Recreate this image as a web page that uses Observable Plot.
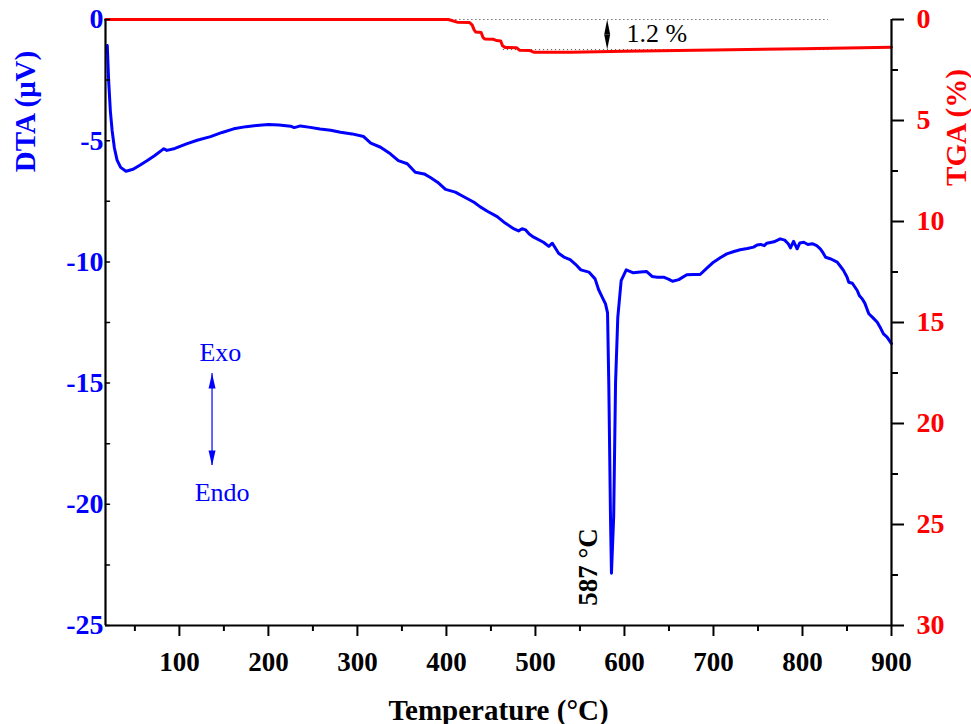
<!DOCTYPE html>
<html>
<head>
<meta charset="utf-8">
<script src="https://cdn.jsdelivr.net/npm/d3@7"></script>
<script src="https://cdn.jsdelivr.net/npm/@observablehq/plot@0.6"></script>
<style>
  html, body { margin: 0; padding: 0; background: #fff; }
</style>
</head>
<body>
<div id="chart"></div>
<script>
// ---- DTA curve (temperature °C, signal µV) ----
const dtaT = [19, 20.5, 22.5, 24.5, 27, 30, 34, 40, 48, 56, 64, 72, 80, 82.5, 86, 95, 108, 120, 135, 148, 161, 175, 190, 200, 212, 225, 229, 236, 247, 258, 270, 281, 294, 307, 315, 326, 337, 346, 356, 365, 375, 382, 390, 399, 410, 419, 431, 438, 446, 457, 466, 476, 481, 485, 489, 493, 498, 509, 515, 519, 526, 532, 539, 545, 551, 560, 567, 571, 575, 578.7, 581, 582.4, 584.3, 585.4, 587.9, 590, 592.5, 596.3, 602, 610, 618, 625, 631, 637, 644, 650, 654, 661, 670, 678, 685, 692, 700, 708, 715, 723, 730, 738, 745, 749, 753, 757, 760, 768, 775, 780, 784, 786.5, 790, 794, 797, 801.5, 806, 811, 816, 820, 823, 826, 832, 839, 843, 846, 850, 852, 856, 861.5, 864, 867, 870, 874.5, 879, 884, 888, 891, 895, 900];
const dtaV = [-1.07, -2.5, -3.8, -4.6, -5.3, -5.8, -6.1, -6.26, -6.18, -6.0, -5.82, -5.62, -5.40, -5.33, -5.40, -5.32, -5.13, -4.98, -4.83, -4.66, -4.51, -4.42, -4.36, -4.33, -4.35, -4.40, -4.46, -4.39, -4.45, -4.52, -4.57, -4.65, -4.72, -4.83, -5.10, -5.27, -5.54, -5.82, -5.95, -6.30, -6.37, -6.52, -6.71, -7.01, -7.12, -7.30, -7.54, -7.73, -7.91, -8.13, -8.40, -8.64, -8.72, -8.63, -8.68, -8.85, -8.98, -9.19, -9.36, -9.23, -9.64, -9.80, -9.91, -10.10, -10.33, -10.42, -10.70, -11.15, -11.45, -11.73, -12.1, -15.0, -20.5, -22.84, -20.5, -15.0, -12.3, -10.77, -10.33, -10.45, -10.42, -10.40, -10.60, -10.63, -10.63, -10.72, -10.80, -10.73, -10.53, -10.52, -10.52, -10.28, -10.01, -9.82, -9.67, -9.57, -9.50, -9.45, -9.39, -9.30, -9.28, -9.33, -9.23, -9.17, -9.05, -9.10, -9.25, -9.42, -9.15, -9.46, -9.22, -9.19, -9.28, -9.25, -9.33, -9.46, -9.62, -9.81, -9.88, -10.01, -10.20, -10.35, -10.62, -10.84, -10.88, -11.18, -11.40, -11.52, -11.70, -12.14, -12.30, -12.49, -12.75, -12.97, -13.10, -13.37];

// ---- TGA curve (temperature °C, mass loss %) ----
const tgaT = [17, 402, 406, 412, 426, 429, 431, 433, 439, 441, 443, 453, 456, 461, 463, 466, 479, 482, 494, 498, 540, 600, 700, 800, 900];
const tgaV = [0, 0, 0.05, 0.13, 0.15, 0.28, 0.50, 0.62, 0.64, 0.88, 0.96, 0.98, 1.04, 1.06, 1.30, 1.38, 1.40, 1.52, 1.54, 1.62, 1.62, 1.57, 1.51, 1.45, 1.37];

// ---- ticks ----
const xMajor = [100, 200, 300, 400, 500, 600, 700, 800, 900];
const xMinor = [50, 150, 250, 350, 450, 550, 650, 750, 850];
const dtaMajor = [0, -5, -10, -15, -20, -25];
const dtaMinor = [-2.5, -7.5, -12.5, -17.5, -22.5];
const tgaMajor = [0, 5, 10, 15, 20, 25, 30];
const tgaMinor = [2.5, 7.5, 12.5, 17.5, 22.5, 27.5];

// ---- annotations ----
const massLossLabel = ["1.2 %"];
const massLossLevels = [0, 1.49];        // TGA % of the dotted guide lines
const guideStart = [397, 464];           // °C where each guide starts
const guideEnd = 829;                     // °C
const massArrowT = 580.6;                 // °C
const peakLabel = ["587 °C"];
const peakLabelPos = {t: 560, v: -22.59};
const exoEndo = {t: 136.7, top: -14.6, bottom: -18.4};
const exoLabel = {text: "Exo", t: 146, v: -13.73};
const endoLabel = {text: "Endo", t: 148, v: -19.5};

// ---- scales ----
const xDomain = [17, 900];
const dtaDomain = [-25, 0];
const tgaMax = 30;
const tgaToY = (p) => -p * (-dtaDomain[0]) / tgaMax;   // map TGA % onto the DTA axis

const dta = dtaT.map((t, i) => ({t, v: dtaV[i]}));
const tga = tgaT.map((t, i) => ({t, v: tgaToY(tgaV[i])}));
const guides = massLossLevels.map((p, i) => ({x1: guideStart[i], x2: guideEnd, y: tgaToY(p)}));
const midArrow = [{t: massArrowT, v: tgaToY((massLossLevels[0] + massLossLevels[1]) / 2)}];

const BLUE = "#0000ff", RED = "#ff0000";
const tickShape = {draw(ctx, l) { ctx.moveTo(0, 0); ctx.lineTo(0, -l); }};

const chart = Plot.plot({
  width: 971,
  height: 724,
  marginLeft: 105,
  marginRight: 80,
  marginTop: 19,
  marginBottom: 99,
  x: {domain: xDomain, label: null},
  y: {domain: dtaDomain, label: null},
  style: {fontFamily: "'Liberation Serif', 'Times New Roman', serif", background: "white", overflow: "visible"},
  marks: [
    // dotted guides for the mass loss
    Plot.ruleY(guides, {y: "y", x1: "x1", x2: "x2", stroke: "#555", strokeWidth: 1, strokeDasharray: "1.2,2.8"}),
    // TGA line
    Plot.line(tga, {x: "t", y: "v", stroke: RED, strokeWidth: 3, strokeLinejoin: "round"}),
    // DTA line
    Plot.line(dta, {x: "t", y: "v", stroke: BLUE, strokeWidth: 3, strokeLinejoin: "round"}),

    // x axis
    Plot.axisX({ticks: xMinor, tickSize: 6, stroke: "black", strokeWidth: 2, fill: "none", label: null}),
    Plot.axisX({ticks: xMajor, tickSize: 11, tickPadding: 15, stroke: "black", strokeWidth: 2, fill: "black",
      fontSize: 27, fontWeight: "bold", tickFormat: (d) => String(d), label: null}),
    // left axis (DTA)
    Plot.axisY({anchor: "left", ticks: dtaMajor, tickSize: 0, tickPadding: 2, fill: BLUE,
      fontSize: 28, fontWeight: "bold", tickFormat: (d) => String(d), label: null}),
    Plot.vector(dtaMajor.concat(dtaMinor), {y: (d) => d, frameAnchor: "left", rotate: 90, length: 4, anchor: "start",
      shape: tickShape, stroke: "black", strokeWidth: 1.5}),
    // right axis (TGA)
    Plot.axisY({anchor: "right", ticks: tgaMinor.map(tgaToY), tickSize: 6, stroke: "black", strokeWidth: 2, fill: "none", label: null}),
    Plot.axisY({anchor: "right", ticks: tgaMajor.map(tgaToY), tickSize: 12, tickPadding: 13, stroke: "black", strokeWidth: 2,
      fill: RED, fontSize: 28, fontWeight: "bold", textAnchor: "start",
      tickFormat: (d) => String(Math.round(-d * tgaMax / (-dtaDomain[0]))), label: null}),
    // axis lines
    Plot.ruleX([xDomain[0]], {stroke: "black", strokeWidth: 2.2}),
    Plot.ruleX([xDomain[1]], {stroke: "black", strokeWidth: 2.2}),
    Plot.ruleY([dtaDomain[0]], {stroke: "black", strokeWidth: 2.2}),

    // axis titles
    Plot.text(["DTA (μV)"], {text: (d) => d, frameAnchor: "top-left", dx: -80, dy: 92, rotate: -90,
      fill: BLUE, fontSize: 29, fontWeight: "bold", textAnchor: "middle", lineAnchor: "middle"}),
    Plot.text(["TGA (%)"], {text: (d) => d, frameAnchor: "top-right", dx: 65, dy: 108, rotate: -90,
      fill: RED, fontSize: 29, fontWeight: "bold", textAnchor: "middle", lineAnchor: "middle"}),
    Plot.text(["Temperature (°C)"], {text: (d) => d, frameAnchor: "bottom", dy: 94,
      fill: "black", fontSize: 29, fontWeight: "bold", textAnchor: "middle", lineAnchor: "bottom"}),

    // mass-loss double arrow and label
    Plot.vector(midArrow, {x: "t", y: "v", rotate: 0, length: 15, anchor: "start", shape: "spike", r: 3, fill: "black", stroke: "none"}),
    Plot.vector(midArrow, {x: "t", y: "v", rotate: 180, length: 15, anchor: "start", shape: "spike", r: 3, fill: "black", stroke: "none"}),
    Plot.text(massLossLabel, {text: (d) => d, x: () => 636.5, y: () => tgaToY(0.713), fill: "black", fontSize: 26,
      textAnchor: "middle", lineAnchor: "middle"}),

    // peak label
    Plot.text(peakLabel, {text: (d) => d, x: () => peakLabelPos.t, y: () => peakLabelPos.v, rotate: -90,
      fill: "black", fontSize: 27, fontWeight: "bold", textAnchor: "middle", lineAnchor: "middle"}),

    // Exo / Endo arrow
    Plot.ruleX([exoEndo], {x: "t", y1: "top", y2: "bottom", stroke: "#3333ff", strokeWidth: 1.5}),
    Plot.vector([exoEndo], {x: "t", y: "top", rotate: 0, length: 15, anchor: "end", shape: "spike", r: 3.5, fill: BLUE, stroke: "none"}),
    Plot.vector([exoEndo], {x: "t", y: "bottom", rotate: 180, length: 15, anchor: "end", shape: "spike", r: 3.5, fill: BLUE, stroke: "none"}),
    Plot.text([exoLabel, endoLabel], {text: "text", x: "t", y: "v", fill: BLUE, fontSize: 26,
      textAnchor: "middle", lineAnchor: "middle"})
  ]
});
document.getElementById("chart").appendChild(chart);
</script>
</body>
</html>
